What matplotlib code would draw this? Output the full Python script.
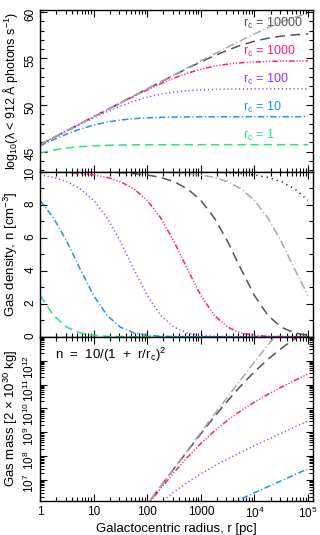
import matplotlib
matplotlib.use('Agg')
import matplotlib.pyplot as plt
import numpy as np
from matplotlib.ticker import MultipleLocator, LogLocator, NullFormatter

plt.rcParams['font.family'] = ['Liberation Sans', 'DejaVu Sans']
plt.rcParams['mathtext.fontset'] = 'custom'
plt.rcParams['mathtext.rm'] = 'Liberation Sans'
plt.rcParams['mathtext.it'] = 'Liberation Sans'
plt.rcParams['font.size'] = 8
plt.rcParams['lines.scale_dashes'] = False

# radius samples [pc], quarter-decade steps
radius_pc = [1, 1.778, 3.162, 5.623, 10, 17.78, 31.62, 56.23, 100, 177.8, 316.2,
             562.3, 1000, 1778, 3162, 5623, 1e4, 17780, 31620, 56230, 1e5]

core_radii = [1, 10, 100, 1000, 10000, 100000, 1000000]

# log10 of ionising photon rate
photons_rc1 = [44.847, 45.169, 45.392, 45.537, 45.626, 45.679, 45.709, 45.727, 45.737, 45.743, 45.746,
               45.748, 45.749, 45.749, 45.750, 45.750, 45.750, 45.750, 45.750, 45.750, 45.750]
photons_rc10 = [45.626, 46.287, 46.892, 47.419, 47.847, 48.169, 48.392, 48.537, 48.626, 48.679, 48.709,
                48.727, 48.737, 48.743, 48.746, 48.748, 48.749, 48.750, 48.750, 48.750, 48.750]
photons_rc100 = [45.737, 46.477, 47.209, 47.929, 48.626, 49.287, 49.892, 50.419, 50.847, 51.169, 51.392,
                 51.537, 51.626, 51.679, 51.709, 51.727, 51.737, 51.743, 51.746, 51.748, 51.749]
photons_rc1000 = [45.749, 46.498, 47.246, 47.993, 48.737, 49.477, 50.209, 50.929, 51.626, 52.287, 52.892,
                  53.419, 53.847, 54.169, 54.392, 54.537, 54.626, 54.679, 54.709, 54.727, 54.737]
photons_rc1e4 = [45.750, 46.500, 47.250, 47.999, 48.749, 49.498, 50.246, 50.993, 51.737, 52.477, 53.209,
                 53.929, 54.626, 55.287, 55.892, 56.419, 56.847, 57.169, 57.392, 57.537, 57.626]
photons_rc1e5 = [45.750, 46.500, 47.250, 48.000, 48.750, 49.500, 50.250, 50.999, 51.749, 52.498, 53.246,
                 53.993, 54.737, 55.477, 56.209, 56.929, 57.626, 58.287, 58.892, 59.419, 59.847]

# gas density [cm^-3]
density_rc1 = [2.5, 1.296, 0.577, 0.228, 0.083, 0.028, 0.009, 0.003, 0.001, 0, 0,
               0, 0, 0, 0, 0, 0, 0, 0, 0, 0]
density_rc10 = [8.264, 7.209, 5.772, 4.097, 2.5, 1.296, 0.577, 0.228, 0.083, 0.028, 0.009,
                0.003, 0.001, 0, 0, 0, 0, 0, 0, 0, 0]
density_rc100 = [9.803, 9.654, 9.396, 8.964, 8.264, 7.209, 5.772, 4.097, 2.5, 1.296, 0.577,
                 0.228, 0.083, 0.028, 0.009, 0.003, 0.001, 0, 0, 0, 0]
density_rc1000 = [9.980, 9.965, 9.937, 9.888, 9.803, 9.654, 9.396, 8.964, 8.264, 7.209, 5.772,
                  4.097, 2.5, 1.296, 0.577, 0.228, 0.083, 0.028, 0.009, 0.003, 0.001]
density_rc1e4 = [9.998, 9.996, 9.994, 9.989, 9.980, 9.965, 9.937, 9.888, 9.803, 9.654, 9.396,
                 8.964, 8.264, 7.209, 5.772, 4.097, 2.5, 1.296, 0.577, 0.228, 0.083]
density_rc1e5 = [10.0, 10.0, 10.0, 10.0, 9.998, 9.996, 9.994, 9.989, 9.980, 9.965, 9.937,
                 9.888, 9.803, 9.654, 9.396, 8.964, 8.264, 7.209, 5.772, 4.097, 2.5]
density_rc1e6 = [10.0, 10.0, 10.0, 10.0, 10.0, 10.0, 10.0, 10.0, 9.998, 9.996, 9.994,
                 9.989, 9.980, 9.965, 9.937, 9.888, 9.803, 9.654, 9.396, 8.964, 8.264]

# log10 of gas mass [2e30 kg]
mass_rc1 = [-0.467, 0.051, 0.507, 0.907, 1.263, 1.587, 1.886, 2.168, 2.440, 2.704, 2.962,
            3.218, 3.472, 3.724, 3.975, 4.226, 4.476, 4.727, 4.977, 5.227, 5.477]
mass_rc10 = [-0.063, 0.642, 1.318, 1.953, 2.533, 3.051, 3.507, 3.907, 4.263, 4.587, 4.886,
             5.168, 5.440, 5.704, 5.962, 6.218, 6.472, 6.724, 6.975, 7.226, 7.476]
mass_rc100 = [-0.007, 0.739, 1.480, 2.214, 2.938, 3.642, 4.318, 4.953, 5.533, 6.051, 6.507,
              6.907, 7.263, 7.587, 7.886, 8.168, 8.440, 8.704, 8.962, 9.218, 9.472]
mass_rc1000 = [-0.001, 0.749, 1.498, 2.246, 2.993, 3.739, 4.480, 5.214, 5.938, 6.642, 7.318,
               7.953, 8.533, 9.051, 9.507, 9.907, 10.263, 10.587, 10.886, 11.168, 11.440]
mass_rc1e4 = [0.000, 0.750, 1.500, 2.250, 2.999, 3.749, 4.498, 5.246, 5.993, 6.739, 7.480,
              8.214, 8.938, 9.642, 10.318, 10.953, 11.533, 12.051, 12.507, 12.907, 13.263]
mass_rc1e5 = [0.000, 0.750, 1.500, 2.250, 3.000, 3.750, 4.500, 5.250, 5.999, 6.749, 7.498,
              8.246, 8.993, 9.739, 10.480, 11.214, 11.938, 12.642, 13.318, 13.953, 14.533]

label_values = ['10000', '1000', '100', '10', '1']
label_y = [58.76, 55.71, 52.75, 49.75, 46.78]

colors = ['#22e87a', '#1e8fff', '#9436f5', '#ff1a8c', '#555555', '#a8a8a8', 'black']
styles = [(0, (6, 3.5)), (0, (4.5, 1.8, 0.8, 1.8)), (0, (0.8, 2.0)),
          (0, (4, 1.4, 0.8, 1.4, 0.8, 1.4, 0.8, 1.4)), (0, (7, 4)),
          (0, (6, 2, 0.8, 2)), (0, (0.8, 3))]

photons = [photons_rc1, photons_rc10, photons_rc100, photons_rc1000, photons_rc1e4, photons_rc1e5]
density = [density_rc1, density_rc10, density_rc100, density_rc1000, density_rc1e4, density_rc1e5,
           density_rc1e6]
mass = [mass_rc1, mass_rc10, mass_rc100, mass_rc1000, mass_rc1e4, mass_rc1e5]

fig = plt.figure(figsize=(3.2, 5.35), dpi=100)
left, width = 40 / 320, 273 / 320
ax1 = fig.add_axes([left, 1 - 171.7 / 535, width, 161.7 / 535])
ax2 = fig.add_axes([left, 1 - 336.7 / 535, width, 165 / 535])
ax3 = fig.add_axes([left, 1 - 500.7 / 535, width, 164 / 535])

lw = 1.1
for i, vals in enumerate(photons):
    ax1.plot(radius_pc, vals, color=colors[i], ls=styles[i], lw=lw)
for i, vals in enumerate(density):
    ax2.plot(radius_pc, vals, color=colors[i], ls=styles[i], lw=lw)
for i, vals in enumerate(mass):
    ax3.plot(radius_pc, np.power(10.0, vals), color=colors[i], ls=styles[i], lw=lw)

for j, (v, y) in enumerate(zip(label_values, label_y)):
    ax1.text(6200, y, 'r$_{\\rm c}$ = ' + v, color=colors[4 - j], ha='left', va='center', fontsize=9)

ax3.text(0.055, 0.89, 'n  =  10/(1  +  r/r$_{\\rm c}$)$^2$', transform=ax3.transAxes,
         ha='left', va='center', fontsize=9.5)

decades = [1, 10, 100, 1000, 1e4, 1e5]
for ax in (ax1, ax2, ax3):
    ax.set_xscale('log')
    ax.set_xlim(1, 10 ** 5.093)
    ax.set_xticks(decades)
    ax.xaxis.set_minor_locator(LogLocator(base=10, subs=np.arange(2, 10)))
    ax.xaxis.set_minor_formatter(NullFormatter())
    ax.tick_params(which='both', direction='in', top=True, right=True, width=0.8, labelsize=8.5)
    ax.tick_params(which='major', length=5)
    ax.tick_params(which='minor', length=2.8)
    ax.tick_params(axis='y', labelrotation=90, pad=2.5)
    for s in ax.spines.values():
        s.set_linewidth(1.0)

ax1.set_xticklabels([])
ax2.set_xticklabels([])
ax3.set_xticklabels(['1', '10', '100', '1000', '10$^4$', '10$^5$'])
ax3.tick_params(axis='x', pad=4)

ax1.set_ylim(42.85, 60.2)
ax1.yaxis.set_major_locator(MultipleLocator(5))
ax1.yaxis.set_minor_locator(MultipleLocator(1))

ax2.set_ylim(0, 10)
ax2.yaxis.set_major_locator(MultipleLocator(2))
ax2.yaxis.set_minor_locator(MultipleLocator(1))

ax3.set_yscale('log')
ax3.set_ylim(10 ** 6.14, 1e13)
ax3.set_yticks([1e7, 1e8, 1e9, 1e10, 1e11, 1e12])
ax3.set_yticklabels(['10$^7$', '10$^8$', '10$^9$', '10$^{10}$', '10$^{11}$', '10$^{12}$'])
ax3.yaxis.set_minor_locator(LogLocator(base=10, subs=np.arange(2, 10)))
ax3.yaxis.set_minor_formatter(NullFormatter())

ax1.set_ylabel('log$_{10}$(λ < 912 Å photons s$^{-1}$)', fontsize=9)
ax2.set_ylabel('Gas density, n [cm$^{-3}$]', fontsize=9.5)
ax3.set_ylabel('Gas mass [2 × 10$^{30}$ kg]', fontsize=9.5)
for ax in (ax1, ax2, ax3):
    ax.yaxis.set_label_coords(-0.072, 0.5)
ax3.set_xlabel('Galactocentric radius, r [pc]', labelpad=1, fontsize=9.5)

fig.savefig('out.png', dpi=100)
